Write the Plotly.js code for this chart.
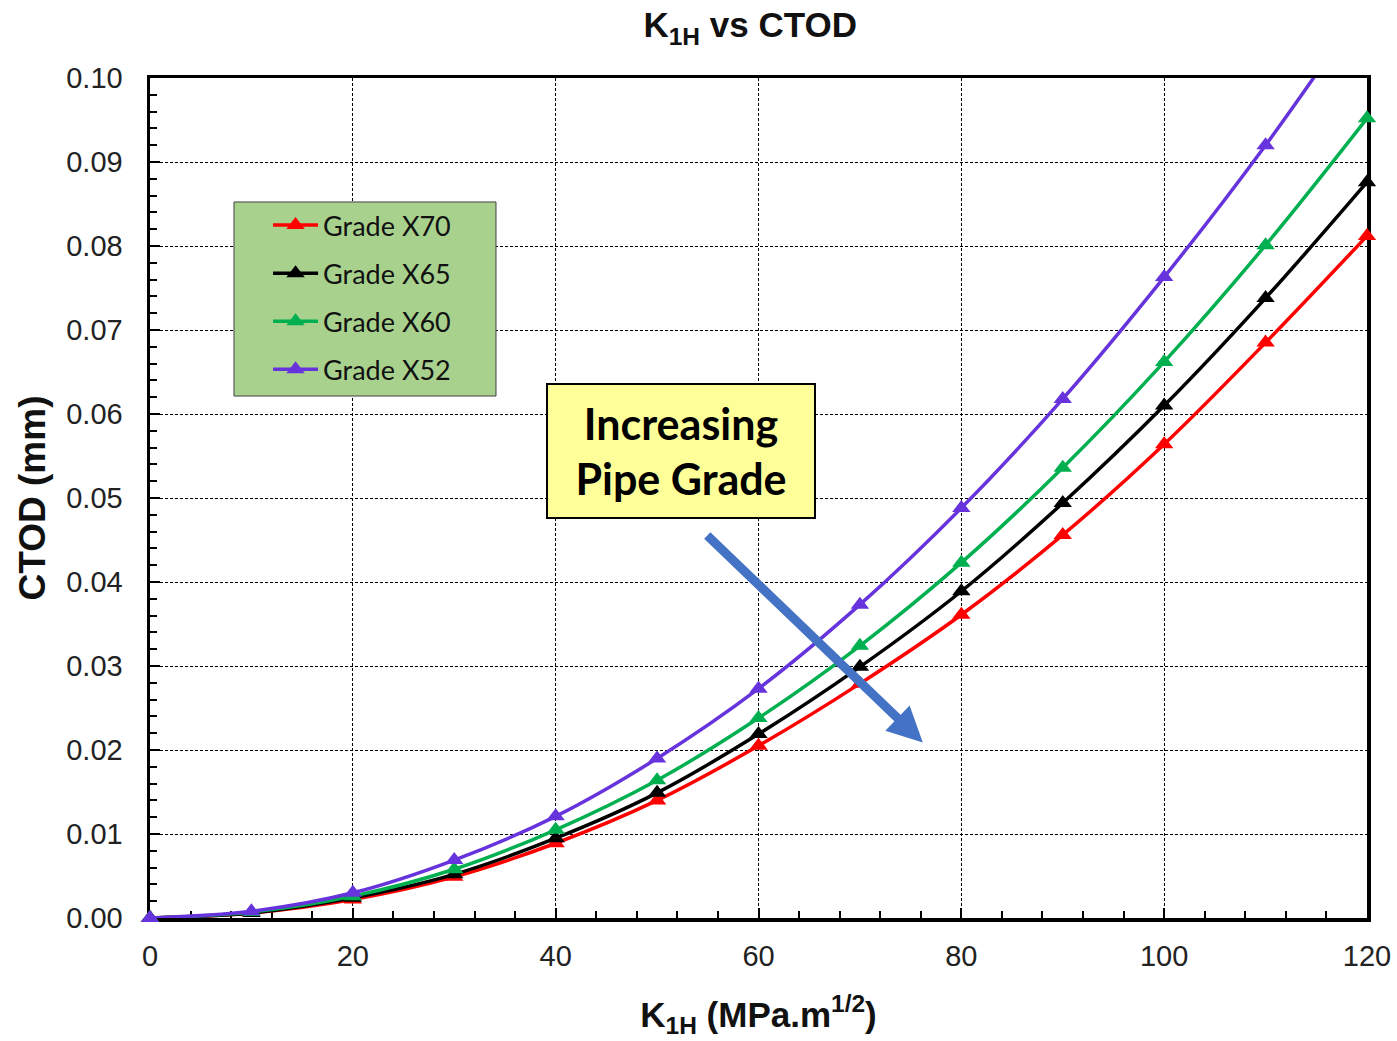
<!DOCTYPE html>
<html>
<head>
<meta charset="utf-8">
<script src="https://cdn.plot.ly/plotly-3.0.1.min.js"></script>
<style>html,body{margin:0;padding:0;background:#fff;}#chart{width:1397px;height:1041px;}</style>
</head>
<body>
<div id="chart"></div>
<script>
// ---- data ----
const k1h = [0, 10, 20, 30, 40, 50, 60, 70, 80, 90, 100, 110, 120];
const ctodX70 = [0, 0.0006, 0.0022, 0.0049, 0.0089, 0.0140, 0.0205, 0.0279, 0.0361, 0.0456, 0.0564, 0.0685, 0.0812];
const ctodX65 = [0, 0.0006, 0.0024, 0.0052, 0.0095, 0.0149, 0.0219, 0.0299, 0.0389, 0.0494, 0.0610, 0.0738, 0.0876];
const ctodX60 = [0, 0.0007, 0.0026, 0.0058, 0.0105, 0.0164, 0.0238, 0.0324, 0.0423, 0.0536, 0.0662, 0.0801, 0.0952];
const ctodX52 = [0, 0.0008, 0.0030, 0.0069, 0.0121, 0.0190, 0.0273, 0.0373, 0.0488, 0.0618, 0.0763, 0.0920, 0.1092];
const seriesNames = ['Grade X70', 'Grade X65', 'Grade X60', 'Grade X52'];
const xTickVals = [0, 20, 40, 60, 80, 100, 120];
const yTickVals = [0, 0.01, 0.02, 0.03, 0.04, 0.05, 0.06, 0.07, 0.08, 0.09, 0.10];

const seriesValues = [ctodX70, ctodX65, ctodX60, ctodX52];
const seriesColors = ['#ff0000', '#000000', '#00b050', '#6633dd'];
const Y_MAX = 0.10;

const traces = seriesValues.map((vals, i) => ({
  type: 'scatter',
  mode: 'lines+markers',
  name: seriesNames[i],
  legendgroup: 'g' + i,
  x: k1h,
  y: vals,
  line: {color: seriesColors[i], width: 3.5, shape: 'spline', smoothing: 1},
  marker: {symbol: 'triangle-up', size: 16, color: seriesColors[i]},
  selectedpoints: vals.map((v, j) => j).filter(j => vals[j] <= Y_MAX),
  unselected: {marker: {opacity: 0}},
  cliponaxis: false
}));

const tickFont = {family: 'Liberation Sans, Arial, sans-serif', size: 29, color: '#222'};
const boldFont = (s) => ({family: 'Liberation Sans, Arial, sans-serif', size: s, color: '#111', weight: 'bold'});
const gridDash = '3px,2px';

const layout = {
  width: 1397,
  height: 1041,
  paper_bgcolor: '#ffffff',
  plot_bgcolor: '#ffffff',
  margin: {l: 150, r: 30, t: 78, b: 123, pad: 0},
  title: {
    text: '<b>K<sub>1H</sub> vs CTOD</b>',
    font: boldFont(35),
    xref: 'container', x: 0.537, xanchor: 'center',
    yref: 'container', y: 0.976, yanchor: 'middle'
  },
  showlegend: true,
  legend: {
    x: 0.097, xanchor: 'left', xref: 'paper',
    y: 0.8536, yanchor: 'top', yref: 'paper',
    bgcolor: 'rgba(0,0,0,0)',
    borderwidth: 0,
    font: {family: 'Lato, Carlito, sans-serif', size: 27, color: '#111'},
    tracegroupgap: 10,
    itemwidth: 45,
    traceorder: 'grouped'
  },
  shapes: [
    {
      type: 'rect', xref: 'paper', yref: 'paper', layer: 'above',
      x0: 0.069, x1: 0.2843, y0: 0.6214, y1: 0.8524,
      fillcolor: '#a9d18e', line: {color: '#404040', width: 1}
    }
  ],
  xaxis: {
    range: [0, 120],
    tickvals: xTickVals,
    ticktext: xTickVals.map(String),
    tickfont: tickFont,
    ticks: 'inside', ticklen: 10, tickwidth: 2, tickcolor: '#000',
    ticklabelstandoff: 10,
    minor: {dtick: 4, ticks: 'inside', ticklen: 7, tickwidth: 2, tickcolor: '#000', showgrid: false},
    showgrid: true, gridcolor: '#000', gridwidth: 1, griddash: gridDash,
    showline: true, linecolor: '#000', linewidth: 3.5, mirror: true,
    zeroline: false,
    layer: 'below traces',
    title: {text: '<b>K<sub>1H</sub> (MPa.m<sup>1/2</sup>)</b>', font: boldFont(35), standoff: 32}
  },
  yaxis: {
    range: [0, 0.10],
    tickvals: yTickVals,
    ticktext: yTickVals.map(v => v.toFixed(2)),
    tickfont: tickFont,
    ticks: 'inside', ticklen: 10, tickwidth: 2, tickcolor: '#000',
    ticklabelstandoff: 18,
    minor: {dtick: 0.002, ticks: 'inside', ticklen: 7, tickwidth: 2, tickcolor: '#000', showgrid: false},
    showgrid: true, gridcolor: '#000', gridwidth: 1, griddash: gridDash,
    showline: true, linecolor: '#000', linewidth: 3.5, mirror: true,
    zeroline: false,
    layer: 'below traces',
    title: {text: '<b>CTOD (mm)</b>', font: boldFont(37), standoff: 10}
  },
  annotations: [
    {
      xref: 'x', yref: 'y',
      x: 52.4, y: 0.0556,
      text: '<b>Increasing<br>Pipe Grade</b>',
      showarrow: false,
      font: {family: 'Lato, Carlito, sans-serif', size: 43, color: '#000'},
      bgcolor: '#ffff99',
      bordercolor: '#000',
      borderwidth: 2,
      width: 264,
      height: 130,
      align: 'center',
      valign: 'middle'
    },
    {
      xref: 'x', yref: 'y', axref: 'x', ayref: 'y',
      x: 76.2, y: 0.0209,
      ax: 54.8, ay: 0.0457,
      text: '',
      showarrow: true,
      arrowhead: 2,
      arrowsize: 0.78,
      arrowwidth: 9,
      arrowcolor: '#4472c4',
      standoff: 0
    }
  ]
};

Plotly.newPlot('chart', traces, layout, {displayModeBar: false, staticPlot: true});
</script>
</body>
</html>
